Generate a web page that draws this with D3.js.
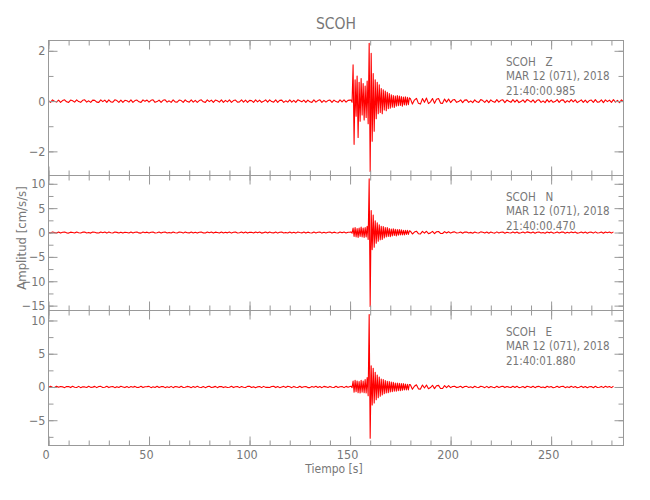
<!DOCTYPE html>
<html>
<head>
<meta charset="utf-8">
<script src="https://cdn.jsdelivr.net/npm/d3@7"></script>
<style>
  html, body { margin: 0; padding: 0; background: #fff; }
  svg text { font-family: 'DejaVu Sans Condensed', 'DejaVu Sans', sans-serif; font-stretch: condensed; fill: #777; }
</style>
</head>
<body>
<svg id="chart" width="650" height="500"></svg>
<script>
// ---------------- data ----------------
const stationName = "SCOH";
const components = ["Z", "N", "E"];
const dateLabel = "MAR 12 (071), 2018";
const startTimes = ["21:40:00.985", "21:40:00.470", "21:40:01.880"];
const timeTicks = [0, 50, 100, 150, 200, 250];
const timeMinorStep = 10;
const timeRange = [0, 286];

// amplitude axis ranges and ticks per panel
const zRange = [-2.96, 2.41];
const nRange = [-16.0, 11.7];
const eRange = [-8.8, 11.5];
const zTicks = [-2, 0, 2];
const nTicks = [-15, -10, -5, 0, 5, 10];
const eTicks = [-5, 0, 5, 10];
const zMinor = [-2, -1, 0, 1, 2];
const nMinor = [-15, -12.5, -10, -7.5, -5, -2.5, 0, 2.5, 5, 7.5, 10];
const eMinor = [-7.5, -5, -2.5, 0, 2.5, 5, 7.5, 10];

// sampling of the hand-read traces
const preStart = 0, preStep = 1;           // 0 .. 150 s
const eventStart = 150.5, eventStep = 0.5; // 150.5 .. 179.5 s
const postStart = 180, postStep = 1;       // 180 .. end

// Z component (cm/s/s)
const zPre = [
0.02,-0.05,0.05,-0.01,-0.04,0.04,-0.05,0.02,0.05,-0.03,
-0.05,0.04,0.01,-0.04,0.05,-0.02,-0.05,0.03,0.05,-0.04,
0.01,-0.05,0.04,0.03,-0.04,-0.05,0.05,-0.02,0.04,-0.05,
0.05,-0.03,-0.04,0.05,0.02,-0.05,0.04,-0.05,0.03,0.01,
-0.04,0.05,-0.05,0.02,0.04,-0.03,-0.05,0.05,-0.01,0.04,
-0.04,0.03,0.05,-0.05,-0.02,0.04,-0.05,0.03,0.05,-0.04,
0.01,-0.05,0.05,-0.03,-0.04,0.04,0.02,-0.05,0.05,-0.02,
-0.04,0.05,-0.04,0.03,-0.05,0.02,0.05,-0.03,-0.05,0.05,
-0.02,0.04,-0.05,0.04,0.01,-0.04,0.05,-0.05,0.03,-0.03,
0.05,-0.05,0.02,0.04,-0.04,-0.03,0.05,-0.04,0.04,-0.05,
0.03,0.02,-0.05,0.05,-0.03,0.04,-0.05,-0.01,0.05,-0.04,
0.05,-0.02,-0.04,0.05,-0.05,0.03,0.04,-0.05,0.01,-0.04,
0.05,-0.04,0.03,-0.05,0.05,0.01,-0.03,0.04,-0.05,0.04,
-0.03,-0.05,0.05,-0.04,0.02,0.05,-0.05,0.03,-0.04,0.02,
0.04,-0.05,0.04,-0.02,-0.05,0.05,-0.03,0.05,-0.04,0.03,
0.04];
const zEvent = [
0.04,-0.05,1.44,-1.72,0.85,-0.6,1.0,-1.45,0.75,-0.8,
0.9,-0.55,0.7,-0.75,0.6,-0.65,0.8,-0.9,2.3,-2.8,
1.9,-1.6,1.1,-1.2,0.85,-0.7,0.75,-0.5,0.65,-0.45,
0.5,-0.5,0.45,-0.35,0.4,-0.38,0.35,-0.3,0.3,-0.28,
0.25,-0.24,0.22,-0.25,0.2,-0.2,0.22,-0.18,0.2,-0.17,
0.18,-0.2,0.16,-0.15,0.17,-0.16,0.15,-0.14,0.13];
const zPost = [
0.1,-0.12,0.04,0.11,-0.09,-0.12,0.1,-0.05,0.12,-0.1,
-0.03,0.1,-0.09,0.07,0.1,-0.08,-0.09,0.08,-0.04,0.08,
-0.06,0.04,0.06,-0.05,-0.02,0.05,-0.06,0.04,0.05,-0.05,
0.01,-0.06,0.05,-0.03,-0.05,0.06,0.02,-0.05,0.04,-0.06,
0.05,-0.02,-0.05,0.06,-0.04,0.03,0.05,-0.06,0.04,-0.01,
-0.05,0.06,-0.04,0.05,-0.06,-0.02,0.05,-0.05,0.06,0.02,
-0.04,0.05,-0.06,0.03,0.05,-0.05,0.01,-0.06,0.06,-0.04,
0.04,-0.05,-0.02,0.06,-0.05,0.04,0.05,-0.06,0.02,-0.04,
0.06,-0.03,0.05,-0.06,-0.01,0.05,-0.05,0.04,-0.06,0.02,
0.04,-0.05,0.06,-0.04,-0.03,0.05,-0.06,0.05,-0.02,0.04,
-0.05,0.06,-0.04,0.03,-0.06,0.05,-0.03];

// N component (cm/s/s)
const nPre = [
0.05,-0.11,0.12,-0.02,-0.09,0.1,-0.12,0.04,0.11,-0.07,
-0.12,0.08,0.02,-0.1,0.12,-0.05,-0.11,0.08,0.12,-0.08,
0.02,-0.12,0.1,0.06,-0.08,-0.11,0.12,-0.04,0.09,-0.12,
0.11,-0.06,-0.1,0.12,0.03,-0.11,0.08,-0.12,0.07,0.02,
-0.09,0.12,-0.11,0.05,0.1,-0.08,-0.12,0.11,-0.03,0.08,
-0.1,0.06,0.12,-0.11,-0.04,0.1,-0.12,0.07,0.11,-0.08,
0.02,-0.11,0.12,-0.06,-0.1,0.09,0.04,-0.12,0.11,-0.05,
-0.08,0.12,-0.1,0.07,-0.12,0.05,0.11,-0.08,-0.11,0.12,
-0.04,0.1,-0.12,0.08,0.01,-0.1,0.12,-0.11,0.06,-0.07,
0.11,-0.12,0.05,0.09,-0.1,-0.06,0.12,-0.08,0.1,-0.12,
0.07,0.04,-0.11,0.12,-0.07,0.1,-0.12,-0.02,0.11,-0.1,
0.12,-0.05,-0.08,0.11,-0.12,0.06,0.1,-0.11,0.02,-0.09,
0.12,-0.1,0.07,-0.12,0.11,0.01,-0.08,0.1,-0.12,0.08,
-0.06,-0.11,0.12,-0.08,0.05,0.11,-0.12,0.07,-0.1,0.04,
0.1,-0.12,0.08,-0.05,-0.11,0.12,-0.07,0.11,-0.1,0.06,
0.09];
const nEvent = [
0.12,-0.15,0.9,-0.8,1.0,-0.9,0.8,-1.0,0.9,-0.8,
1.1,-0.9,0.9,-1.0,1.0,-0.9,1.3,-1.4,11.0,-15.2,
4.5,-3.5,3.6,-3.0,2.4,-2.2,2.0,-1.8,1.6,-1.5,
1.3,-1.4,1.2,-1.1,1.0,-0.9,1.0,-0.8,0.8,-0.85,
0.7,-0.7,0.75,-0.6,0.65,-0.7,0.6,-0.55,0.6,-0.5,
0.55,-0.5,0.45,-0.5,0.45,-0.4,0.45,-0.4,0.35];
const nPost = [
0.28,-0.3,0.1,0.27,-0.24,-0.29,0.25,-0.13,0.26,-0.23,
-0.07,0.23,-0.21,0.16,0.21,-0.18,-0.2,0.18,-0.08,0.17,
-0.12,0.08,0.13,-0.1,-0.03,0.11,-0.13,0.09,0.12,-0.08,
0.03,-0.13,0.11,-0.06,-0.1,0.13,0.04,-0.12,0.09,-0.13,
0.11,-0.04,-0.12,0.13,-0.09,0.06,0.12,-0.13,0.07,-0.03,
-0.1,0.13,-0.08,0.12,-0.13,-0.05,0.1,-0.12,0.13,0.03,
-0.09,0.12,-0.13,0.06,0.11,-0.1,0.02,-0.13,0.12,-0.07,
0.09,-0.12,-0.05,0.13,-0.1,0.08,0.12,-0.13,0.04,-0.09,
0.13,-0.06,0.1,-0.13,-0.03,0.12,-0.1,0.09,-0.13,0.05,
0.08,-0.12,0.13,-0.09,-0.06,0.1,-0.13,0.12,-0.04,0.09,
-0.12,0.13];

// E component (cm/s/s)
const ePre = [
-0.07,0.1,-0.03,-0.09,0.1,-0.05,0.08,0.02,-0.1,0.08,
0.06,-0.09,0.1,-0.03,-0.07,0.09,-0.1,0.04,0.01,-0.08,
0.1,-0.06,-0.02,0.09,-0.1,0.07,0.09,-0.08,-0.04,0.1,
-0.09,0.03,0.08,-0.1,0.05,-0.07,0.1,0.01,-0.09,0.08,
-0.1,0.07,-0.04,0.09,-0.08,-0.06,0.1,-0.09,0.04,0.06,
0.09,-0.1,0.02,-0.07,0.1,-0.09,0.05,0.08,-0.1,0.03,
-0.08,0.09,-0.1,0.06,0.02,-0.08,0.1,-0.07,-0.05,0.09,
0.04,-0.1,0.08,-0.06,0.1,-0.03,-0.09,0.07,-0.1,0.05,
0.1,-0.07,-0.02,0.09,-0.1,0.06,0.08,-0.09,0.04,-0.08,
-0.05,0.1,-0.09,0.03,0.08,-0.1,0.07,-0.04,-0.09,0.09,
0.1,-0.08,0.05,-0.1,0.02,0.08,-0.1,0.09,-0.06,-0.03,
-0.08,0.06,0.1,-0.09,0.07,-0.1,0.01,0.09,-0.07,0.1,
0.04,-0.1,0.09,-0.05,-0.08,0.1,-0.09,0.03,0.07,-0.09,
-0.1,0.08,-0.03,0.1,-0.07,0.06,-0.1,0.09,0.02,-0.08,
0.09,-0.05,-0.09,0.1,-0.08,0.04,0.07,-0.1,0.09,-0.04,
0.07];
const eEvent = [
0.1,-0.1,0.9,-0.8,1.0,-0.7,0.9,-0.85,0.8,-0.9,
1.0,-0.8,0.9,-0.85,1.1,-0.9,1.4,-1.3,10.9,-7.7,
3.2,-2.7,2.8,-2.4,2.2,-1.9,1.8,-1.6,1.5,-1.4,
1.2,-1.2,1.1,-1.0,0.95,-0.9,0.85,-0.85,0.8,-0.75,
0.75,-0.7,0.7,-0.65,0.6,-0.65,0.6,-0.55,0.55,-0.55,
0.5,-0.5,0.5,-0.45,0.45,-0.45,0.4,-0.45,0.38];
const ePost = [
0.32,-0.35,0.12,0.33,-0.28,-0.32,0.3,-0.16,0.29,-0.27,
-0.08,0.26,-0.25,0.19,0.24,-0.22,-0.23,0.21,-0.09,0.2,
-0.1,0.07,0.11,-0.09,-0.02,0.1,-0.11,0.07,0.09,-0.08,
0.03,-0.11,0.1,-0.05,-0.09,0.11,0.02,-0.1,0.09,-0.11,
0.08,-0.04,-0.1,0.11,-0.07,0.05,0.11,-0.09,0.07,-0.02,
-0.09,0.1,-0.07,0.11,-0.1,-0.04,0.08,-0.11,0.1,0.04,
-0.08,0.11,-0.1,0.06,0.09,-0.09,0.01,-0.11,0.11,-0.05,
0.07,-0.11,-0.05,0.1,-0.08,0.07,0.11,-0.1,0.03,-0.09,
0.11,-0.06,0.08,-0.11,-0.03,0.1,-0.09,0.08,-0.11,0.04,
0.06,-0.11,0.1,-0.07,-0.05,0.09,-0.1,0.11,-0.04,0.08,
-0.1,0.11];

// ---------------- build ----------------
function buildSeries(pre, ev, post) {
  return [
    ...pre.map((v, i) => [preStart + i * preStep, v]),
    ...ev.map((v, i) => [eventStart + i * eventStep, v]),
    ...post.map((v, i) => [postStart + i * postStep, v])
  ];
}

const panels = [
  { comp: components[0], time: startTimes[0], series: buildSeries(zPre, zEvent, zPost), range: zRange, ticks: zTicks, minor: zMinor },
  { comp: components[1], time: startTimes[1], series: buildSeries(nPre, nEvent, nPost), range: nRange, ticks: nTicks, minor: nMinor },
  { comp: components[2], time: startTimes[2], series: buildSeries(ePre, eEvent, ePost), range: eRange, ticks: eTicks, minor: eMinor }
];

const svg = d3.select("#chart");
const plotLeft = 48.5, plotRight = 623.5, plotTop = 40.5, panelH = 135;
const axisColor = "#999";
const textColor = "#777";
const fontFam = "'DejaVu Sans Condensed', 'DejaVu Sans', sans-serif";

const x = d3.scaleLinear().domain(timeRange).range([plotLeft, plotRight]);
const xMinor = d3.range(timeRange[0], timeRange[1] + 0.001, timeMinorStep);

svg.append("rect").attr("width", 650).attr("height", 500).attr("fill", "#fff");

svg.append("text")
  .attr("x", (plotLeft + plotRight) / 2).attr("y", 29)
  .attr("text-anchor", "middle")
  .style("font-size", "15.5px")
  .text(stationName);

const defs = svg.append("defs");

panels.forEach((p, i) => {
  const y0 = plotTop + i * panelH, y1 = y0 + panelH;
  const y = d3.scaleLinear().domain(p.range).range([y1, y0]);
  const g = svg.append("g");

  defs.append("clipPath").attr("id", "clip" + i)
    .append("rect").attr("x", plotLeft).attr("y", y0).attr("width", plotRight - plotLeft).attr("height", panelH);

  // trace
  const line = d3.line().x(d => x(d[0])).y(d => y(d[1]));
  g.append("path")
    .datum(p.series)
    .attr("clip-path", `url(#clip${i})`)
    .attr("fill", "none")
    .attr("stroke", "#ff0000")
    .attr("stroke-width", 1.1)
    .attr("stroke-linejoin", "round")
    .attr("d", line);

  // frame
  g.append("rect")
    .attr("x", plotLeft).attr("y", y0).attr("width", plotRight - plotLeft).attr("height", panelH)
    .attr("fill", "none").attr("stroke", axisColor).attr("stroke-width", 1);

  const styleAxis = sel => {
    sel.select(".domain").remove();
    sel.selectAll(".tick line").attr("stroke", axisColor);
    sel.selectAll(".tick text").attr("fill", textColor)
      .style("font-size", "12.5px")
      .style("font-family", fontFam);
  };

  // left axis major + minor
  g.append("g").attr("transform", `translate(${plotLeft},0)`)
    .call(d3.axisLeft(y).tickValues(p.minor).tickSize(-5).tickFormat(""))
    .call(styleAxis);
  g.append("g").attr("transform", `translate(${plotLeft},0)`)
    .call(d3.axisLeft(y).tickValues(p.ticks).tickSize(-9).tickPadding(3).tickFormat(d3.format("d")))
    .call(styleAxis)
    .call(s => s.selectAll(".tick text").text(d => d < 0 ? "\u2212" + Math.abs(d) : d));
  // right axis
  g.append("g").attr("transform", `translate(${plotRight},0)`)
    .call(d3.axisRight(y).tickValues(p.minor).tickSize(-5).tickFormat(""))
    .call(styleAxis);
  g.append("g").attr("transform", `translate(${plotRight},0)`)
    .call(d3.axisRight(y).tickValues(p.ticks).tickSize(-9).tickFormat(""))
    .call(styleAxis);
  // top x ticks
  g.append("g").attr("transform", `translate(0,${y0})`)
    .call(d3.axisTop(x).tickValues(xMinor).tickSize(-5).tickFormat(""))
    .call(styleAxis);
  g.append("g").attr("transform", `translate(0,${y0})`)
    .call(d3.axisTop(x).tickValues(timeTicks).tickSize(-9).tickFormat(""))
    .call(styleAxis);
  // bottom x ticks
  g.append("g").attr("transform", `translate(0,${y1})`)
    .call(d3.axisBottom(x).tickValues(xMinor).tickSize(-5).tickFormat(""))
    .call(styleAxis);
  const bx = g.append("g").attr("transform", `translate(0,${y1})`)
    .call(d3.axisBottom(x).tickValues(timeTicks).tickSize(-9).tickPadding(5)
      .tickFormat(i === panels.length - 1 ? d3.format("d") : ""))
    .call(styleAxis);
  bx.selectAll(".tick text").attr("dx", -3);

  // annotation
  const ann = g.append("text")
    .style("font-size", "11.5px");
  [stationName + "\u00a0\u00a0\u00a0" + p.comp, dateLabel, p.time].forEach((t, k) => {
    ann.append("tspan").attr("x", 506).attr("y", y0 + 25 + k * 14.5).text(t);
  });
});

// axis titles
svg.append("text")
  .attr("x", (plotLeft + plotRight) / 2 - 2).attr("y", 473)
  .attr("text-anchor", "middle")
  .style("font-size", "12px")
  .text("Tiempo [s]");

svg.append("text")
  .attr("transform", `translate(26,${238}) rotate(-90)`)
  .attr("text-anchor", "middle")
  .style("font-size", "13px")
  .text("Amplitud [cm/s/s]");
</script>
</body>
</html>
